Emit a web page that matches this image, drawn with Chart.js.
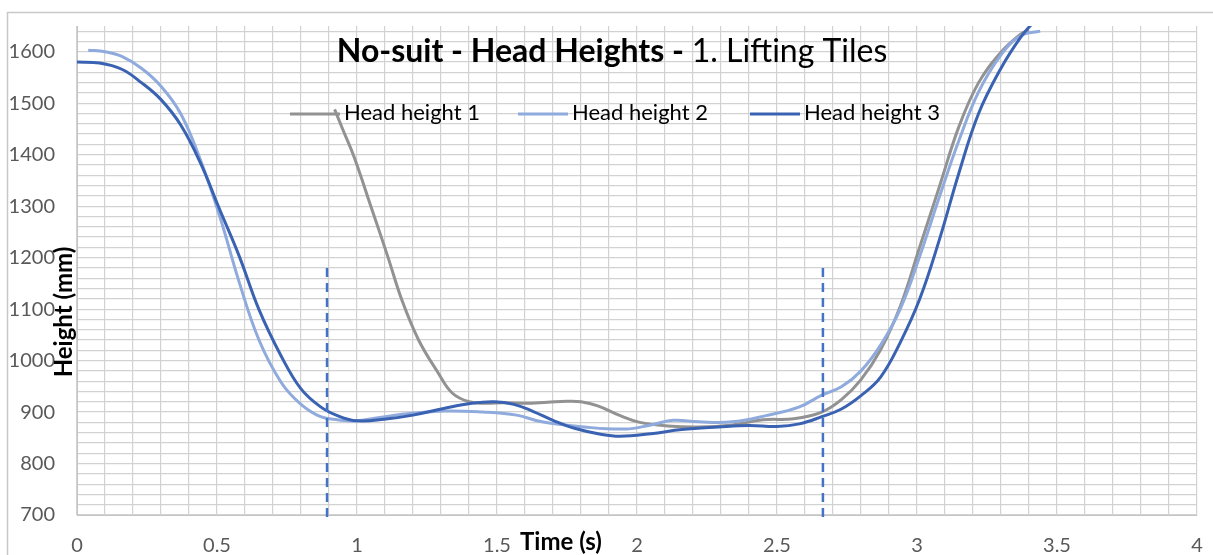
<!DOCTYPE html>
<html>
<head>
<meta charset="utf-8">
<script src="https://cdn.jsdelivr.net/npm/chart.js@4.4.1/dist/chart.umd.min.js"></script>
<style>
  body { margin: 0; background: #fff; }
  #wrap { width: 1213px; height: 555px; position: relative; }
</style>
</head>
<body>
<div id="wrap"><canvas id="line-chart"></canvas></div>
<script>
// head height series (time in s, height in mm)
var t1 = [0.92, 0.95, 0.99, 1.05, 1.11, 1.16, 1.22, 1.29, 1.34, 1.40, 1.46, 1.52, 1.60, 1.68, 1.75, 1.80, 1.86, 1.94, 2.01, 2.11, 2.22, 2.34, 2.45, 2.56, 2.66, 2.73, 2.80, 2.87, 2.94, 3.01, 3.08, 3.15, 3.22, 3.30, 3.37, 3.40];
var h1 = [1488, 1448, 1395, 1299, 1202, 1118, 1040, 976, 937, 920, 917, 918, 917, 919, 921, 920, 912, 893, 880, 873, 871, 875, 885, 887, 900, 924, 963, 1021, 1105, 1221, 1338, 1455, 1540, 1599, 1634, 1642];

var t2 = [0.04, 0.10, 0.16, 0.23, 0.30, 0.37, 0.44, 0.51, 0.58, 0.65, 0.73, 0.80, 0.87, 0.93, 1.00, 1.15, 1.31, 1.45, 1.57, 1.66, 1.81, 1.96, 2.05, 2.13, 2.22, 2.34, 2.46, 2.58, 2.66, 2.73, 2.80, 2.87, 2.94, 3.01, 3.08, 3.15, 3.22, 3.30, 3.37, 3.44];
var h2 = [1603, 1600, 1591, 1568, 1533, 1480, 1391, 1280, 1151, 1040, 957, 915, 891, 885, 883, 895, 902, 900, 894, 881, 871, 867, 875, 884, 881, 881, 893, 910, 933, 949, 980, 1030, 1100, 1203, 1318, 1428, 1522, 1594, 1631, 1640];

var t3 = [0.00, 0.08, 0.16, 0.23, 0.30, 0.37, 0.44, 0.51, 0.58, 0.65, 0.73, 0.80, 0.87, 0.93, 1.00, 1.11, 1.20, 1.31, 1.41, 1.49, 1.56, 1.63, 1.70, 1.78, 1.87, 1.94, 2.05, 2.16, 2.29, 2.40, 2.50, 2.58, 2.66, 2.73, 2.80, 2.87, 2.94, 3.01, 3.08, 3.15, 3.22, 3.30, 3.37, 3.42];
var h3 = [1580, 1578, 1566, 1540, 1507, 1458, 1385, 1293, 1202, 1099, 1008, 945, 910, 893, 883, 887, 894, 907, 917, 920, 915, 901, 884, 868, 857, 853, 858, 866, 871, 874, 872, 877, 891, 906, 932, 968, 1035, 1120, 1235, 1365, 1480, 1568, 1628, 1660];

var seriesNames = ["Head height 1", "Head height 2", "Head height 3"];

// dashed phase markers
var markerTimes = [0.893, 2.664];
var markerRange = [686, 1180];

var yMin = 700, yMax = 1650, yStep = 20;
var xMin = 0, xMax = 4;

function toPoints(ts, hs) {
  var pts = [];
  ts.forEach(function(t, i) { pts.push({x: t, y: hs[i]}); });
  return pts;
}

var FONT = "Lato, 'Open Sans', sans-serif";

var datasets = [
  { label: seriesNames[0], data: toPoints(t1, h1), borderColor: "#929292", order: 3 },
  { label: seriesNames[1], data: toPoints(t2, h2), borderColor: "#8FAADC", order: 2 },
  { label: seriesNames[2], data: toPoints(t3, h3), borderColor: "#3A62B2", order: 1 }
].map(function(d) {
  d.borderWidth = 3;
  d.pointRadius = 0;
  d.fill = false;
  d.tension = 0.4;
  return d;
});

markerTimes.forEach(function(t) {
  datasets.push({
    label: '',
    data: [{x: t, y: markerRange[1]}, {x: t, y: markerRange[0]}],
    borderColor: "#4472C4",
    borderWidth: 2.5,
    borderDash: [9, 6],
    pointRadius: 0,
    clip: false,
    order: 0
  });
});

var decor = {
  id: 'decor',
  beforeDraw: function(chart) {
    var ctx = chart.ctx;
    ctx.save();
    ctx.strokeStyle = "#c8c8c8";
    ctx.lineWidth = 1.5;
    ctx.strokeRect(7.5, 12.5, 1400, 700);
    ctx.restore();
  },
  afterDraw: function(chart) {
    var ctx = chart.ctx;
    ctx.save();
    ctx.fillStyle = "#000";
    ctx.textBaseline = "middle";

    // title: bold part then regular part
    var boldTxt = "No-suit - Head Heights - ";
    var normTxt = "1. Lifting Tiles";
    ctx.font = "bold 32px " + FONT;
    var wb = ctx.measureText(boldTxt).width;
    ctx.font = "32px " + FONT;
    var wn = ctx.measureText(normTxt).width;
    var sx = 612 - (wb + wn) / 2;
    ctx.font = "bold 32px " + FONT;
    ctx.textAlign = "left";
    ctx.fillText(boldTxt, sx, 52);
    ctx.font = "32px " + FONT;
    ctx.fillText(normTxt, sx + wb, 52);

    // legend inside the plot
    var lx = [290, 518, 750];
    ctx.font = "22px " + FONT;
    for (var i = 0; i < 3; i++) {
      var ds = chart.data.datasets[i];
      ctx.strokeStyle = ds.borderColor;
      ctx.lineWidth = 3;
      ctx.beginPath();
      ctx.moveTo(lx[i], 114);
      ctx.lineTo(lx[i] + 50, 114);
      ctx.stroke();
      ctx.fillText(ds.label, lx[i] + 54, 113);
    }

    // axis titles
    ctx.font = "bold 24px " + FONT;
    ctx.textAlign = "center";
    ctx.fillText("Time (s)", 561, 542);
    ctx.translate(64, 312);
    ctx.rotate(-Math.PI / 2);
    ctx.fillText("Height (mm)", 0, 0);
    ctx.restore();
  }
};

myChart = new Chart(document.getElementById("line-chart"), {
  type: 'line',
  data: { datasets: datasets },
  plugins: [decor],
  options: {
    responsive: true,
    maintainAspectRatio: false,
    animation: false,
    layout: { padding: { top: 26, right: 16, left: 0, bottom: 0 } },
    plugins: {
      legend: { display: false },
      title: { display: false },
      tooltip: { enabled: false }
    },
    scales: {
      x: {
        type: 'linear',
        min: xMin,
        max: xMax,
        afterBuildTicks: function(scale) {
          var ticks = [];
          for (var i = 0; i <= 40; i++) ticks.push({ value: i / 10 });
          scale.ticks = ticks;
        },
        afterFit: function(scale) {
          scale.height = 40;
          scale.paddingLeft = 0;
          scale.paddingRight = 0;
        },
        grid: { color: "#d2d2d2", lineWidth: 1.2, drawTicks: false },
        border: { color: "#c4c4c4" },
        ticks: {
          autoSkip: false,
          maxRotation: 0,
          padding: 19,
          color: "#595959",
          font: { family: FONT, size: 20 },
          callback: function(v) {
            var k = Math.round(v * 10);
            return k % 5 === 0 ? String(k / 10) : '';
          }
        }
      },
      y: {
        min: yMin,
        max: yMax,
        afterBuildTicks: function(scale) {
          var ticks = [];
          for (var v = yMin; v < yMax; v += yStep) ticks.push({ value: v });
          scale.ticks = ticks;
        },
        afterFit: function(scale) {
          scale.width = 77;
          scale.paddingTop = 0;
          scale.paddingBottom = 0;
        },
        grid: { color: "#d2d2d2", lineWidth: 1.2, drawTicks: false },
        border: { color: "#c4c4c4" },
        ticks: {
          autoSkip: false,
          padding: 22,
          color: "#595959",
          font: { family: FONT, size: 20 },
          callback: function(v) { return v % 100 === 0 ? String(v) : ''; }
        }
      }
    }
  }
});
</script>
</body>
</html>
